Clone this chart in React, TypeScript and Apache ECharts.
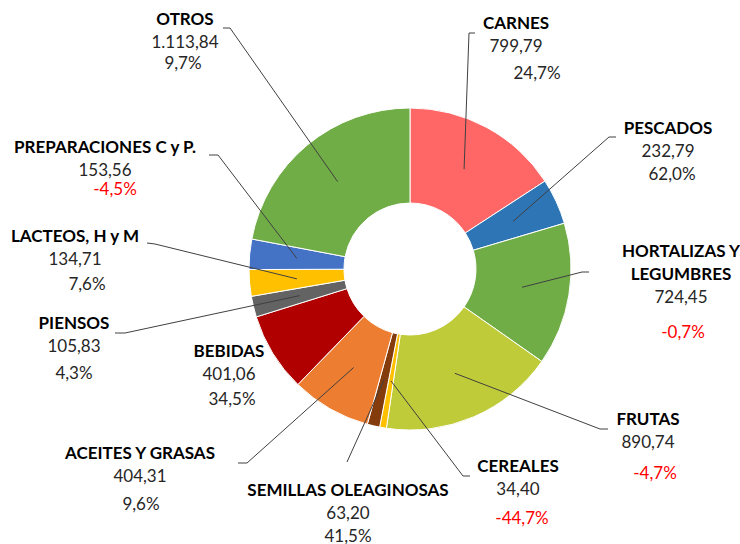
import React, { useEffect, useRef } from "react";
import * as echarts from "echarts";

// ---- data ----
const categories = [
  "CARNES",
  "PESCADOS",
  "HORTALIZAS Y\nLEGUMBRES",
  "FRUTAS",
  "CEREALES",
  "SEMILLAS OLEAGINOSAS",
  "ACEITES Y GRASAS",
  "BEBIDAS",
  "PIENSOS",
  "LACTEOS, H y M",
  "PREPARACIONES C y P.",
  "OTROS",
];
const values = [799.79, 232.79, 724.45, 890.74, 34.4, 63.2, 404.31, 401.06, 105.83, 134.71, 153.56, 1113.84];
const changes = [24.7, 62.0, -0.7, -4.7, -44.7, 41.5, 9.6, 34.5, 4.3, 7.6, -4.5, 9.7];

// ---- styles / layout ----
const colors = [
  "#FF6666", "#2E75B6", "#70AD47", "#BFCB38", "#FFC000", "#843C0C",
  "#ED7D31", "#B00000", "#636363", "#FFC000", "#4472C4", "#70AD47",
];
const CX = 410;
const CY = 269;
const R_IN = 66;
const R_OUT = 161;
// label centre x, first-line centre y
const labelX = [516, 668, 681, 648, 518, 348, 140, 229, 74, 75, 105, 185];
const labelY = [22, 127, 250, 418, 465, 489, 452, 350, 322, 235, 146, 18];
// gap between value line and percent line (centres)
const pctGap = [27.5, 23, 35, 31, 29, 23, 28, 25, 27, 25, 19, 21.5];
// horizontal offset of percent line
const pctShift = [21, 4, 2, 7, 4, 0, 1, 3, 0, 12, 10, -2];
// leader line end points near the label (null = no line)
const lineEnds: (number[][] | null)[] = [
  [[469, 33], [475, 33]],
  [[609, 137], [616, 137]],
  [[582, 272], [589, 272]],
  [[600, 429], [608, 429]],
  [[463, 476], [470, 476]],
  [[347, 462], [347, 462]],
  [[247, 463], [238, 463]],
  null,
  [[125, 333], [115, 333]],
  [[155, 244], [147, 243]],
  [[218, 155], [209, 155]],
  [[230, 28], [223, 28]],
];

const LH = 23;
const FS = 17;
const FONT = "Lato";

function fmtNum(v: number): string {
  const [i, d] = v.toFixed(2).split(".");
  const withDots = i.replace(/\B(?=(\d{3})+(?!\d))/g, ".");
  return withDots + "," + d;
}
function fmtPct(v: number): string {
  return v.toFixed(1).replace(".", ",") + "%";
}

export default function App() {
  const ref = useRef<HTMLDivElement>(null);
  useEffect(() => {
    if (!ref.current) return;
    const chart = echarts.init(ref.current, undefined, { renderer: "svg" });
    const total = values.reduce((a, b) => a + b, 0);
    const midAngles: number[] = [];
    let cum = 0;
    values.forEach((v) => {
      midAngles.push(((cum + v / 2) / total) * Math.PI * 2);
      cum += v;
    });
    const rMid = (R_IN + R_OUT) / 2;

    const rich: any = {
      n: { fontFamily: FONT, fontWeight: "bold", fontSize: FS, color: "#000", lineHeight: LH, align: "center" },
      v: { fontFamily: FONT, fontSize: FS, color: "#262626", lineHeight: LH, align: "center" },
    };
    changes.forEach((c, i) => {
      const s = pctShift[i];
      rich["p" + i] = {
        fontFamily: FONT,
        fontSize: FS,
        color: c < 0 ? "#FF0000" : "#262626",
        lineHeight: 2 * (pctGap[i] - LH / 2),
        align: "center",
        padding: s >= 0 ? [0, 0, 0, 2 * s] : [0, -2 * s, 0, 0],
      };
    });

    const data = categories.map((name, i) => ({
      name,
      value: values[i],
      itemStyle: { color: colors[i] },
    }));

    // leader lines: from the middle of each slice to the label
    const leaderLines = lineEnds
      .map((ends, i) => {
        if (!ends) return null;
        const a = midAngles[i];
        const anchor = [CX + rMid * Math.sin(a), CY - rMid * Math.cos(a)];
        return {
          type: "polyline",
          silent: true,
          z: 100,
          shape: { points: [anchor, ends[0], ends[1]] },
          style: { stroke: "#404040", lineWidth: 1, fill: null },
        };
      })
      .filter(Boolean);

    chart.setOption({
      animation: false,
      graphic: leaderLines,
      series: [
        {
          type: "pie",
          center: [CX, CY],
          radius: [R_IN, R_OUT],
          startAngle: 90,
          clockwise: true,
          avoidLabelOverlap: false,
          itemStyle: { borderColor: "#fff", borderWidth: 1 },
          emphasis: { disabled: true },
          label: {
            show: true,
            position: "outside",
            formatter: (p: any) => {
              const i = p.dataIndex;
              const nameLines = categories[i].split("\n").map((l) => `{n|${l}}`).join("\n");
              return `${nameLines}\n{v|${fmtNum(values[i])}}\n{p${i}|${fmtPct(changes[i])}}`;
            },
            rich,
          },
          labelLine: { show: false },
          labelLayout: (params: any) => {
            const i = params.dataIndex;
            return {
              x: labelX[i],
              y: labelY[i] - LH / 2,
              align: "center",
              verticalAlign: "top",
            };
          },
          data,
        },
      ],
    });
    return () => chart.dispose();
  }, []);
  return (
    <div
      ref={ref}
      style={{ position: "fixed", left: 0, top: 0, width: 740, height: 544, background: "#fff" }}
    />
  );
}
